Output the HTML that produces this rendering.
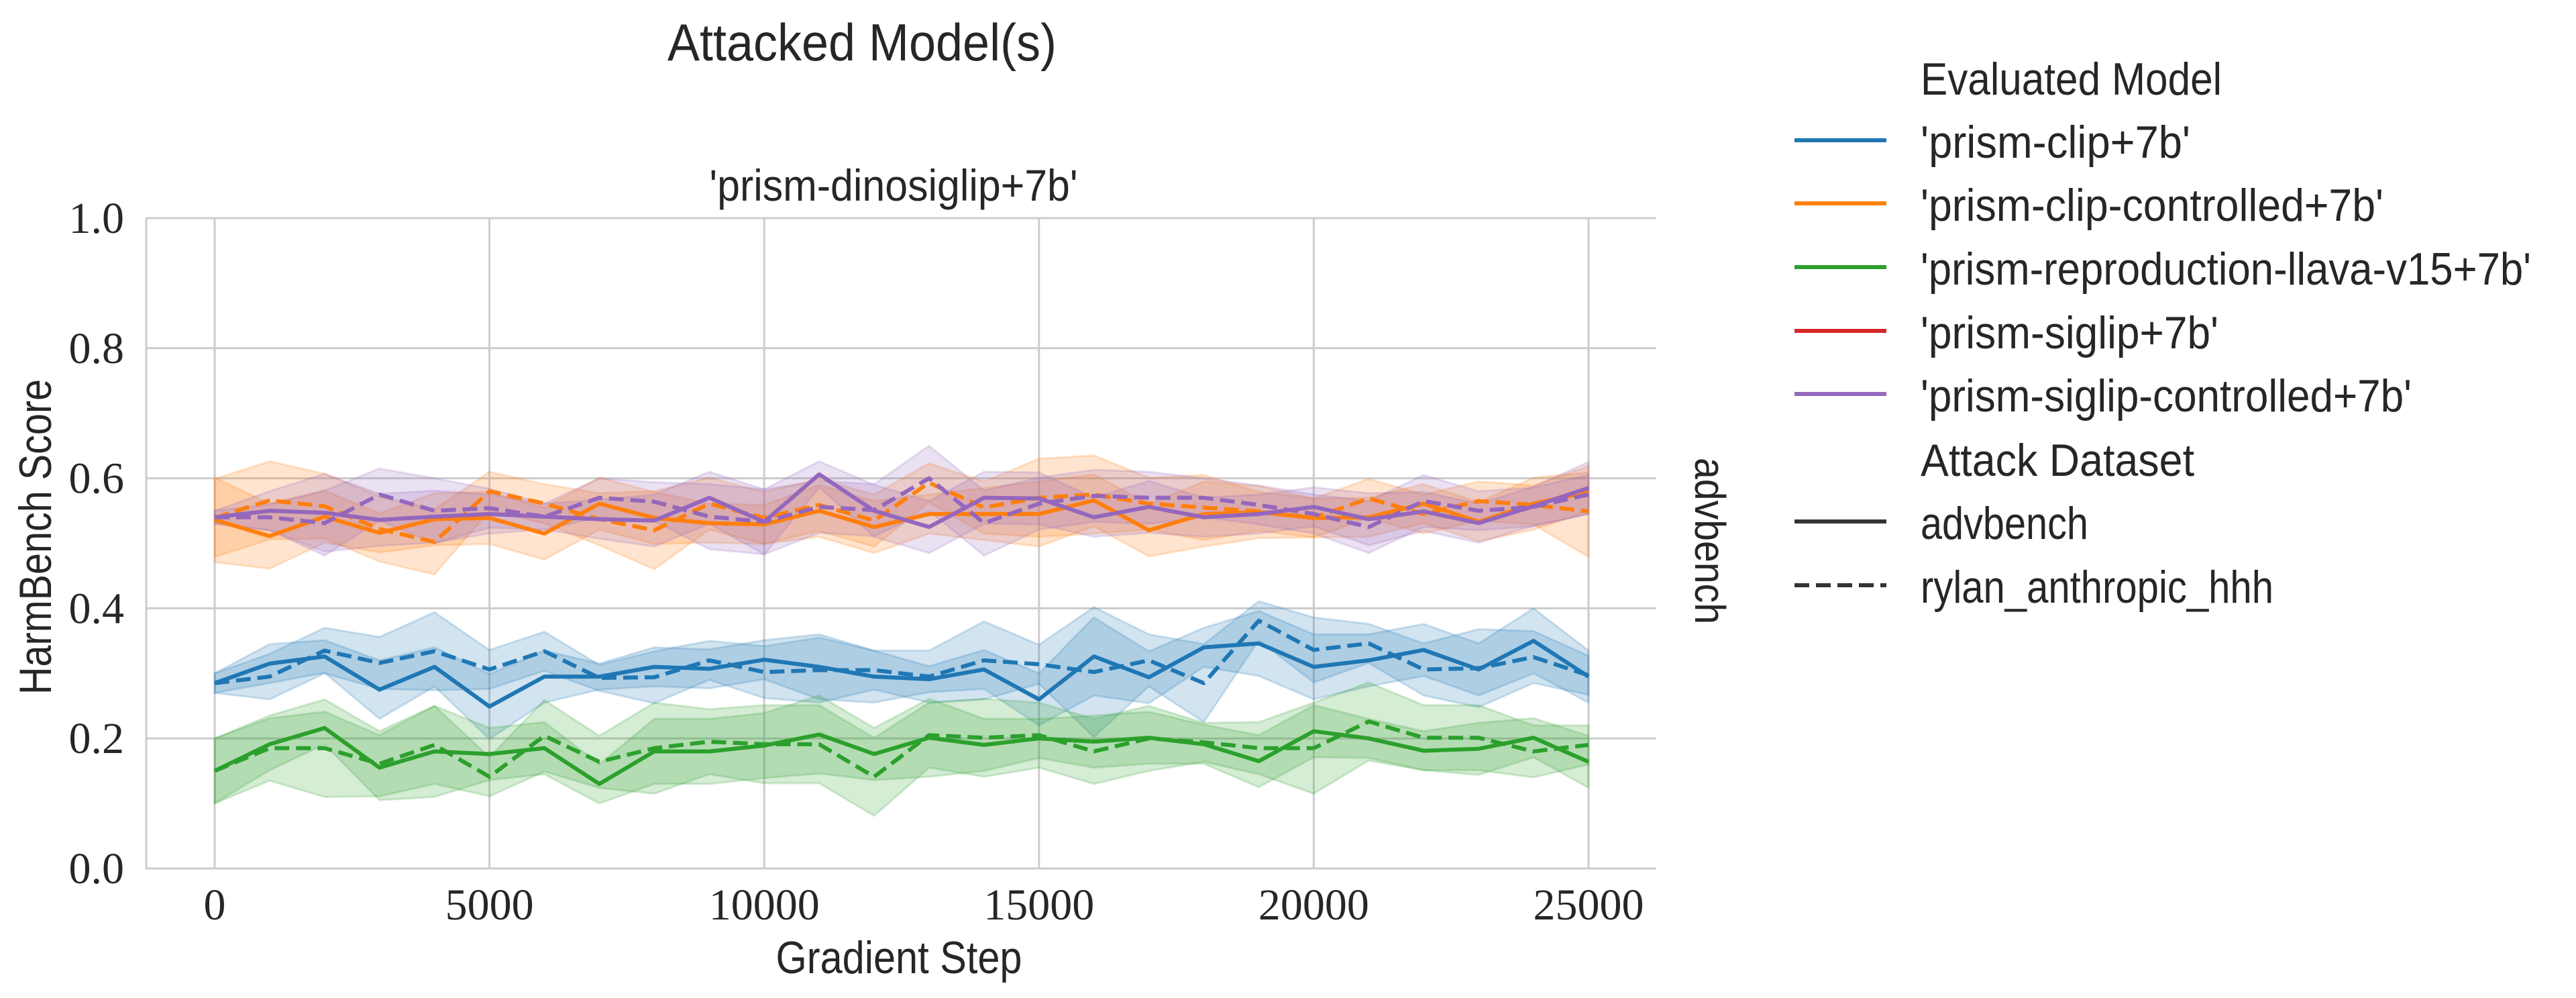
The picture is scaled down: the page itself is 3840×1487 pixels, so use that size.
<!DOCTYPE html>
<html><head><meta charset="utf-8"><style>
html,body{margin:0;padding:0;background:#fff;}
svg{display:block;}
.sans{font-family:"Liberation Sans",sans-serif;fill:#262626;}
.serif{font-family:"Liberation Serif",serif;fill:#262626;}
</style></head><body>
<svg id="chart" width="3840" height="1487" viewBox="0 0 3840 1487" xmlns="http://www.w3.org/2000/svg">
<rect x="0" y="0" width="3840" height="1487" fill="#fff"/>
<text class="sans" x="1285" y="90" font-size="78" text-anchor="middle" textLength="580" lengthAdjust="spacingAndGlyphs">Attacked Model(s)</text>
<text class="sans" x="1332" y="299" font-size="66" text-anchor="middle" textLength="549" lengthAdjust="spacingAndGlyphs">'prism-dinosiglip+7b'</text>
<g id="grid"></g>
<g id="bands"></g>
<g id="lines"></g>
<g id="axes"></g>
<text class="sans" x="1340" y="1450" font-size="68" text-anchor="middle" textLength="367" lengthAdjust="spacingAndGlyphs">Gradient Step</text>
<text class="sans" transform="translate(76,800) rotate(-90)" font-size="68" text-anchor="middle" textLength="470" lengthAdjust="spacingAndGlyphs">HarmBench Score</text>
<text class="sans" transform="translate(2527,806) rotate(90)" font-size="64" text-anchor="middle" textLength="248" lengthAdjust="spacingAndGlyphs">advbench</text>
<g id="legend"></g>
</svg>
<script>
const steps = [0,1000,2000,3000,4000,5000,6000,7000,8000,9000,10000,11000,12000,13000,14000,15000,16000,17000,18000,19000,20000,21000,22000,23000,24000,25000];
const xTicks = [0,5000,10000,15000,20000,25000];
const xTickLabels = ["0","5000","10000","15000","20000","25000"];
const yTicks = [0,0.2,0.4,0.6,0.8,1.0];
const yTickLabels = ["0.0","0.2","0.4","0.6","0.8","1.0"];

const clipAdv = [0.285,0.315,0.326,0.275,0.310,0.249,0.295,0.295,0.310,0.307,0.321,0.310,0.295,0.291,0.306,0.260,0.326,0.294,0.340,0.346,0.310,0.320,0.336,0.306,0.350,0.295];
const clipHhh = [0.285,0.295,0.335,0.316,0.334,0.306,0.334,0.293,0.294,0.320,0.302,0.305,0.305,0.295,0.320,0.314,0.302,0.320,0.285,0.381,0.336,0.346,0.306,0.308,0.325,0.297];
const reproAdv = [0.150,0.191,0.216,0.155,0.180,0.176,0.185,0.130,0.180,0.180,0.189,0.206,0.176,0.201,0.190,0.200,0.195,0.201,0.191,0.165,0.211,0.200,0.181,0.184,0.201,0.164];
const reproHhh = [0.150,0.185,0.185,0.161,0.190,0.141,0.204,0.164,0.185,0.195,0.191,0.191,0.141,0.205,0.201,0.205,0.180,0.200,0.194,0.185,0.185,0.226,0.201,0.201,0.180,0.190];
const ctrlAdv = [0.536,0.511,0.541,0.516,0.537,0.539,0.515,0.561,0.539,0.531,0.529,0.550,0.525,0.545,0.545,0.545,0.566,0.520,0.545,0.548,0.539,0.540,0.561,0.533,0.561,0.579];
const ctrlHhh = [0.539,0.566,0.557,0.522,0.502,0.580,0.561,0.537,0.520,0.561,0.539,0.559,0.535,0.593,0.555,0.570,0.575,0.561,0.555,0.549,0.539,0.569,0.545,0.565,0.559,0.549];
const sigCtrlAdv = [0.540,0.550,0.547,0.536,0.541,0.545,0.541,0.537,0.535,0.570,0.533,0.606,0.550,0.525,0.570,0.569,0.540,0.556,0.540,0.545,0.556,0.537,0.549,0.531,0.557,0.585];
const sigCtrlHhh = [0.540,0.540,0.531,0.575,0.550,0.554,0.541,0.570,0.564,0.541,0.533,0.556,0.551,0.600,0.531,0.561,0.573,0.570,0.570,0.559,0.545,0.525,0.565,0.550,0.556,0.575];

const clipAdvErr = [0.015,0.03,0.025,0.045,0.03,0.05,0.04,0.02,0.03,0.03,0.03,0.05,0.04,0.02,0.03,0.04,0.06,0.04,0.03,0.05,0.05,0.04,0.04,0.04,0.05,0.04];
const clipHhhErr = [0.015,0.035,0.035,0.04,0.06,0.03,0.03,0.02,0.04,0.03,0.04,0.05,0.03,0.04,0.06,0.03,0.1,0.04,0.06,0.03,0.05,0.03,0.04,0.06,0.04,0.03];
const reproAdvErr = [0.05,0.04,0.025,0.05,0.07,0.04,0.04,0.03,0.05,0.05,0.05,0.06,0.04,0.06,0.04,0.03,0.04,0.04,0.03,0.04,0.04,0.03,0.03,0.04,0.03,0.04];
const reproHhhErr = [0.05,0.05,0.075,0.05,0.06,0.03,0.055,0.04,0.07,0.05,0.06,0.06,0.06,0.05,0.06,0.05,0.05,0.05,0.03,0.04,0.07,0.06,0.05,0.05,0.04,0.03];
const ctrlAdvErr = [0.065,0.05,0.04,0.03,0.04,0.04,0.04,0.04,0.04,0.03,0.03,0.04,0.04,0.03,0.04,0.05,0.04,0.04,0.05,0.04,0.03,0.03,0.03,0.03,0.04,0.03];
const ctrlHhhErr = [0.06,0.06,0.05,0.05,0.05,0.03,0.03,0.04,0.06,0.04,0.04,0.04,0.04,0.03,0.04,0.06,0.06,0.04,0.05,0.03,0.03,0.03,0.03,0.03,0.03,0.07];
const sigCtrlAdvErr = [0.01,0.03,0.06,0.04,0.04,0.03,0.02,0.03,0.04,0.04,0.05,0.02,0.04,0.04,0.04,0.04,0.03,0.04,0.03,0.03,0.03,0.04,0.03,0.03,0.03,0.04];
const sigCtrlHhhErr = [0.01,0.02,0.05,0.04,0.05,0.03,0.02,0.03,0.03,0.05,0.05,0.04,0.04,0.05,0.05,0.04,0.04,0.04,0.03,0.03,0.03,0.04,0.04,0.03,0.03,0.03];

const legendModels = ["'prism-clip+7b'","'prism-clip-controlled+7b'","'prism-reproduction-llava-v15+7b'","'prism-siglip+7b'","'prism-siglip-controlled+7b'"];
const legendDatasets = ["advbench","rylan_anthropic_hhh"];

const NS = "http://www.w3.org/2000/svg";
const L = 218, R = 2469, T = 325, B = 1294;
const X0 = 320, X1 = 2368;
function xs(v){ return X0 + (v - 0) / 25000 * (X1 - X0); }
function ys(v){ return B - v * (B - T); }
function mk(tag, attrs, parent){
  const e = document.createElementNS(NS, tag);
  for (const k in attrs) e.setAttribute(k, attrs[k]);
  parent.appendChild(e);
  return e;
}
const colors = {blue:"#1f77b4", orange:"#ff7f0e", green:"#2ca02c", red:"#d62728", purple:"#9467bd"};

const grid = document.getElementById('grid');
xTicks.forEach((t,i)=>{
  const g = mk('line',{x1:xs(t),x2:xs(t),y1:T,y2:B,stroke:'#cccccc','stroke-width':3},grid);
  
  
});
yTicks.forEach((t,i)=>{
  const g = mk('line',{x1:L,x2:R,y1:ys(t),y2:ys(t),stroke:'#cccccc','stroke-width':3},grid);
  
  
});

const series = [
  {name:'clip-advbench', vals:clipAdv, err:clipAdvErr, color:colors.blue, dash:false},
  {name:'clip-rylan', vals:clipHhh, err:clipHhhErr, color:colors.blue, dash:true},
  {name:'clip-controlled-advbench', vals:ctrlAdv, err:ctrlAdvErr, color:colors.orange, dash:false},
  {name:'clip-controlled-rylan', vals:ctrlHhh, err:ctrlHhhErr, color:colors.orange, dash:true},
  {name:'reproduction-advbench', vals:reproAdv, err:reproAdvErr, color:colors.green, dash:false},
  {name:'reproduction-rylan', vals:reproHhh, err:reproHhhErr, color:colors.green, dash:true},
  {name:'siglip-controlled-advbench', vals:sigCtrlAdv, err:sigCtrlAdvErr, color:colors.purple, dash:false},
  {name:'siglip-controlled-rylan', vals:sigCtrlHhh, err:sigCtrlHhhErr, color:colors.purple, dash:true}
];
const bands = document.getElementById('bands');
const lines = document.getElementById('lines');
series.forEach(s=>{
  const up = steps.map((st,i)=>xs(st)+','+ys(s.vals[i]+s.err[i]));
  const lo = steps.map((st,i)=>xs(st)+','+ys(s.vals[i]-s.err[i])).reverse();
  const p = mk('polygon',{points:up.concat(lo).join(' '),fill:s.color,'fill-opacity':0.2,stroke:s.color,'stroke-opacity':0.2,'stroke-width':3},bands);
  
  
});
series.forEach(s=>{
  const pts = steps.map((st,i)=>xs(st)+','+ys(s.vals[i])).join(' ');
  const attrs = {points:pts,fill:'none',stroke:s.color,'stroke-width':6,'stroke-linejoin':'round'};
  if (s.dash) attrs['stroke-dasharray'] = '22,10';
  const p = mk('polyline',attrs,lines);
  
  
});

const axes = document.getElementById('axes');
const sp1 = mk('line',{x1:L,x2:L,y1:T,y2:B+1.5,stroke:'#cccccc','stroke-width':3},axes);


const sp2 = mk('line',{x1:L-1.5,x2:R,y1:B,y2:B,stroke:'#cccccc','stroke-width':3},axes);


xTicks.forEach((t,i)=>{
  const tx = mk('text',{x:xs(t),y:1370,'font-size':66,'text-anchor':'middle','class':'serif'},axes);
  tx.textContent = xTickLabels[i];
  
  
});
yTicks.forEach((t,i)=>{
  const tx = mk('text',{x:185,y:ys(t)+22,'font-size':66,'text-anchor':'end','class':'serif'},axes);
  tx.textContent = yTickLabels[i];
  
  
});

const legend = document.getElementById('legend');
const lx1 = 2675, lx2 = 2812, tx0 = 2863;
function ltext(str, y, len, name){
  const t = mk('text',{x:tx0,y:y,'font-size':68,'class':'sans',textLength:len,lengthAdjust:'spacingAndGlyphs'},legend);
  t.textContent = str;
  
  
}
ltext('Evaluated Model',141,449,'legend-title-model');
const modelColors = [colors.blue, colors.orange, colors.green, colors.red, colors.purple];
const modelY = [209,303,398,493,587];
const modelLen = [402,690,910,444,732];
legendModels.forEach((m,i)=>{
  const ln = mk('line',{x1:lx1,x2:lx2,y1:modelY[i],y2:modelY[i],stroke:modelColors[i],'stroke-width':6},legend);
  
  
  ltext(m, modelY[i]+26, modelLen[i], 'legend-entry');
});
ltext('Attack Dataset',709,408,'legend-title-dataset');
const dsY = [777,872];
const dsLen = [250,526];
legendDatasets.forEach((d,i)=>{
  const attrs = {x1:lx1,x2:lx2,y1:dsY[i],y2:dsY[i],stroke:'#333333','stroke-width':6};
  if (i===1) attrs['stroke-dasharray']='22,10';
  const ln = mk('line',attrs,legend);
  
  
  ltext(d.replace(/_/g,'_'), dsY[i]+26, dsLen[i], 'legend-entry');
});
</script>
</body></html>
